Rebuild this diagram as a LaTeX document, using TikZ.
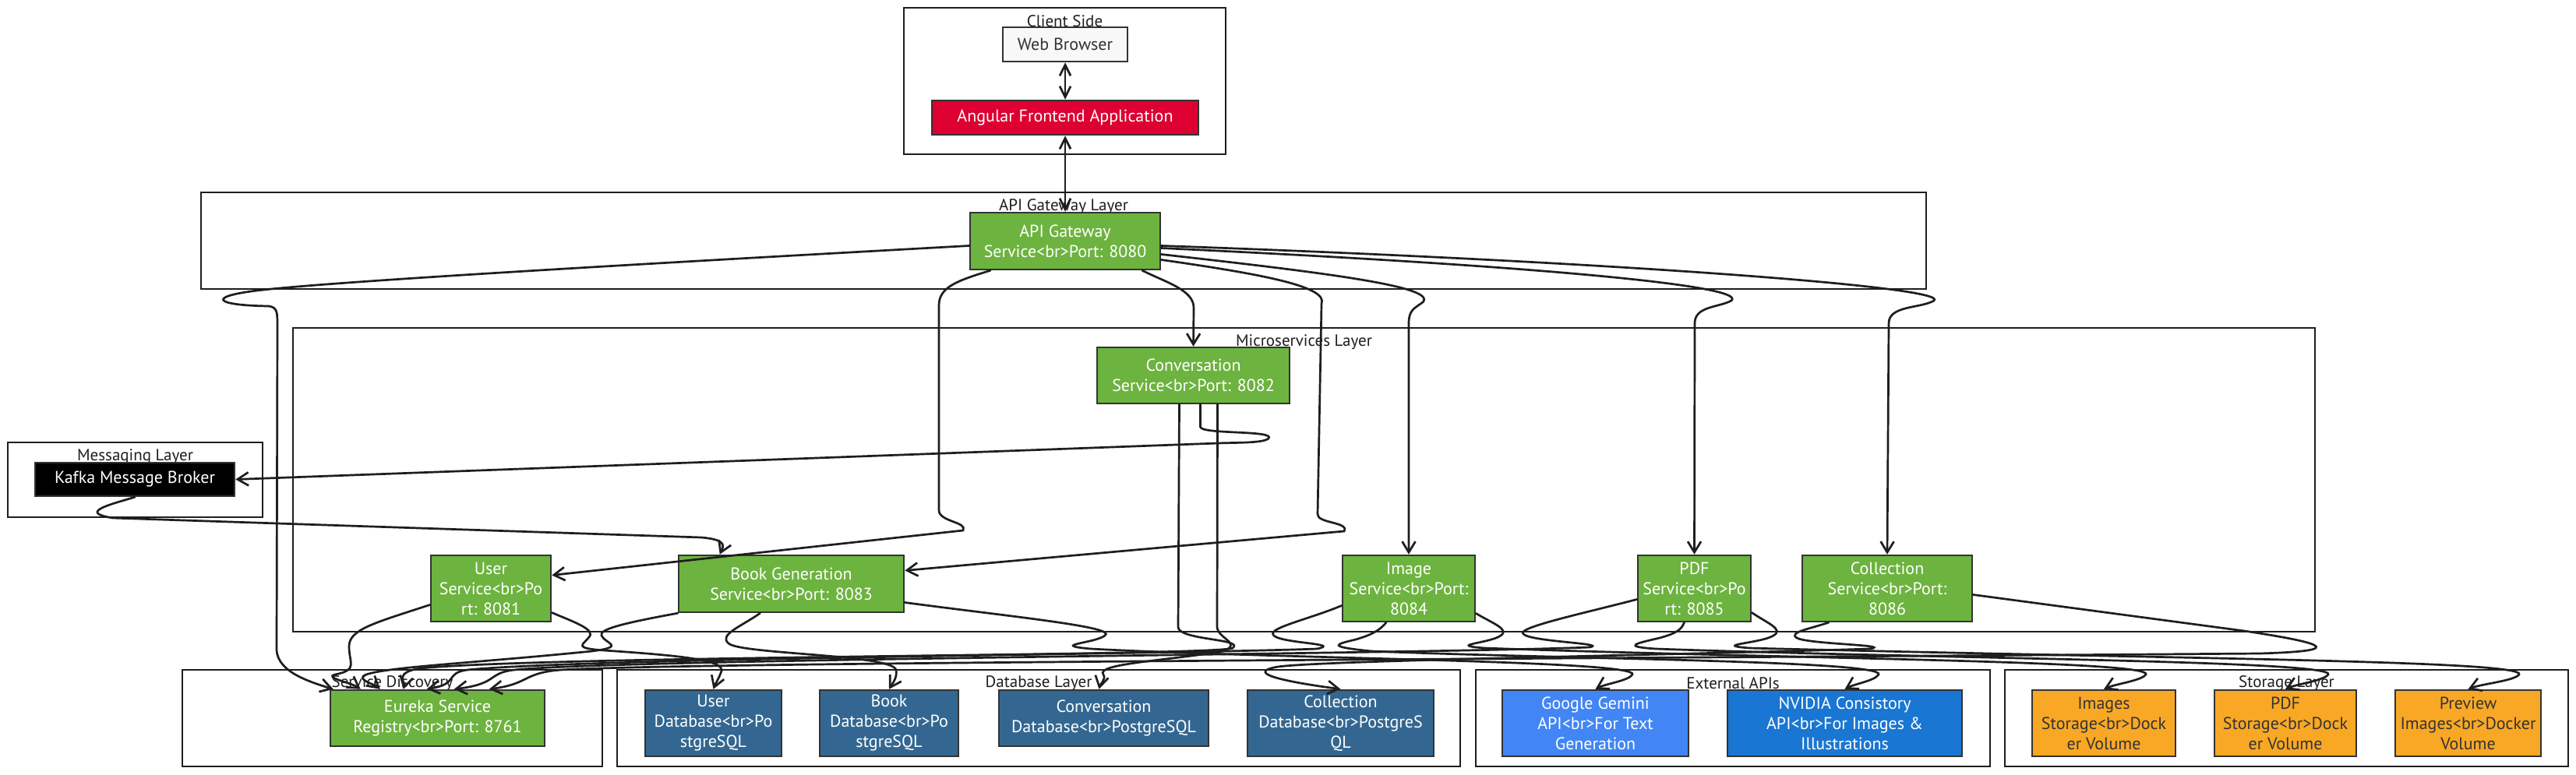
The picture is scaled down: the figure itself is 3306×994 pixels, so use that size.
\documentclass[tikz,border=0pt]{standalone}
\usepackage{fontspec}
\setmainfont{PT Sans}
\usetikzlibrary{arrows.meta,calc}
\definecolor{sgreen}{HTML}{6DB33F}
\definecolor{sred}{HTML}{DD0031}
\definecolor{sdb}{HTML}{336791}
\definecolor{sgem}{HTML}{4285F4}
\definecolor{snv}{HTML}{1976D2}
\definecolor{sorange}{HTML}{F9A825}
\definecolor{sborder}{HTML}{333333}
\definecolor{sline}{HTML}{1E1E1E}
\definecolor{sbrowser}{HTML}{F8F8F8}
\tikzset{
  layer/.style={draw=sline, line width=2.2pt, fill=white, inner sep=0pt},
  layertitle/.style={font=\fontsize{21}{24}\selectfont, text=sline, inner sep=0pt},
  box/.style={draw=sborder, line width=2.5pt, inner sep=0pt, align=center,
    font=\fontsize{22}{26}\selectfont, text=white},
  greenbox/.style={box, fill=sgreen},
  dbbox/.style={box, fill=sdb},
  storbox/.style={box, fill=sorange, text=sborder},
  edge/.style={draw=sline, line width=2.7pt, line cap=round,
    -{Straight Barb[length=14pt,width=17pt]}},
  biedge/.style={draw=sline, line width=2.7pt,
    {Straight Barb[length=14pt,width=14pt]}-{Straight Barb[length=14pt,width=14pt]}},
}
\begin{document}
\begin{tikzpicture}[x=1pt,y=-1pt]
\useasboundingbox (0,0) rectangle (3306,994);
\fill[white] (0,0) rectangle (3306,994);

% containers
\node[layer, minimum width=413, minimum height=188] (client) at (1366.5,104) {};
\node[layer, minimum width=2214, minimum height=124] (gwl) at (1365,309) {};
\node[layer, minimum width=2595, minimum height=390] (msl) at (1673.5,616) {};
\node[layer, minimum width=327, minimum height=96] (msgl) at (173.5,616) {};
\node[layer, minimum width=539, minimum height=124] (sdl) at (503.5,922) {};
\node[layer, minimum width=1082, minimum height=124] (dbl) at (1333,922) {};
\node[layer, minimum width=660, minimum height=124] (extl) at (2224,922) {};
\node[layer, minimum width=723, minimum height=124] (storl) at (2934.5,922) {};

% container titles
\node[layertitle] (clientt) at (1366.5,27) {Client Side};
\node[layertitle] (gwlt) at (1365,265) {API Gateway Layer};
\node[layertitle] (mslt) at (1673.5,439) {Microservices Layer};
\node[layertitle] (msglt) at (173.5,586) {Messaging Layer};
\node[layertitle] (sdlt) at (503.5,877) {Service Discovery};
\node[layertitle] (dblt) at (1333,877) {Database Layer};
\node[layertitle] (extlt) at (2224,877) {External APIs};
\node[layertitle] (storlt) at (2934.5,877) {Storage Layer};

% nodes
\node[box, fill=sbrowser, text=sborder, minimum width=160, minimum height=44] (browser) at (1367,57) {Web Browser};
\node[box, fill=sred, minimum width=342, minimum height=44] (angular) at (1367,151) {Angular Frontend Application};
\node[greenbox, minimum width=244, minimum height=73] (gw) at (1367,309.5) {API Gateway\\Service<br>Port: 8080};
\node[greenbox, minimum width=247, minimum height=72] (conv) at (1531.5,482) {Conversation\\Service<br>Port: 8082};
\node[greenbox, minimum width=154, minimum height=85] (user) at (630,755.5) {User\\Service<br>Po\\rt: 8081};
\node[greenbox, minimum width=289, minimum height=73] (bookgen) at (1015.5,749.5) {Book Generation\\Service<br>Port: 8083};
\node[greenbox, minimum width=170, minimum height=85] (image) at (1808,755.5) {Image\\Service<br>Port:\\8084};
\node[greenbox, minimum width=145, minimum height=85] (pdf) at (2174.5,755.5) {PDF\\Service<br>Po\\rt: 8085};
\node[greenbox, minimum width=218, minimum height=85] (coll) at (2422,755.5) {Collection\\Service<br>Port:\\8086};
\node[box, fill=black, minimum width=256, minimum height=43] (kafka) at (173,615.5) {Kafka Message Broker};
\node[greenbox, minimum width=275, minimum height=72] (eureka) at (561.5,922) {Eureka Service\\Registry<br>Port: 8761};
\node[dbbox, minimum width=175, minimum height=85] (userdb) at (915.5,928.5) {User\\Database<br>Po\\stgreSQL};
\node[dbbox, minimum width=178, minimum height=85] (bookdb) at (1141,928.5) {Book\\Database<br>Po\\stgreSQL};
\node[dbbox, minimum width=269, minimum height=72] (convdb) at (1416.5,922) {Conversation\\Database<br>PostgreSQL};
\node[dbbox, minimum width=239, minimum height=85] (colldb) at (1720.5,928.5) {Collection\\Database<br>PostgreS\\QL};
\node[box, fill=sgem, minimum width=239, minimum height=85] (gemini) at (2047.5,928.5) {Google Gemini\\API<br>For Text\\Generation};
\node[box, fill=snv, minimum width=301, minimum height=85] (nvidia) at (2367.5,928.5) {NVIDIA Consistory\\API<br>For Images \&\\Illustrations};
\node[storbox, minimum width=184, minimum height=85] (imgstor) at (2700,928.5) {Images\\Storage<br>Dock\\er Volume};
\node[storbox, minimum width=182, minimum height=85] (pdfstor) at (2933,928.5) {PDF\\Storage<br>Dock\\er Volume};
\node[storbox, minimum width=187, minimum height=85] (preview) at (3167.5,928.5) {Preview\\Images<br>Docker\\Volume};

% client connectors
\draw[biedge] (browser.south) -- (angular.north);
\draw[biedge] (angular.south) -- (gw.north);

% gateway fan-out
\draw[edge] ($(gw.south)+(99,0)$) .. controls (1495,362) and (1532,372) .. (1532,395) -- (conv.north);
\draw[edge] ($(gw.south)+(-96,0)$) .. controls (1230,360) and (1205,368) .. (1205,392) -- (1205,655)
  .. controls (1205,670) and (1242,670) .. (1236,681) -- ($(user.east)+(0,-17)$);
\draw[edge] ($(gw.east)+(0,24)$) .. controls (1620,352) and (1705,368) .. (1696,390) -- (1691,660)
  .. controls (1690,672) and (1732,670) .. (1725,682) -- ($(bookgen.east)+(0,-17)$);
\draw[edge] ($(gw.east)+(0,17)$) .. controls (1700,350) and (1845,368) .. (1826,388)
  .. controls (1815,396) and (1808,398) .. (1808,415) -- (image.north);
\draw[edge] ($(gw.east)+(0,9)$) .. controls (1950,340) and (2245,366) .. (2222,386)
  .. controls (2205,395) and (2175,393) .. (2175,415) -- (pdf.north);
\draw[edge] ($(gw.east)+(0,6)$) .. controls (2050,335) and (2505,368) .. (2482,386)
  .. controls (2465,396) and (2424,392) .. (2424,415) -- (coll.north);
\draw[edge] ($(gw.west)+(0,6)$) .. controls (800,340) and (420,362) .. (330,373)
  .. controls (265,381) and (275,392) .. (345,393) .. controls (356,395) and (356,400) .. (356,420)
  -- (355,830) .. controls (353,858) and (385,872) .. ($(eureka.north west)+(5,0)$);

% messaging
\draw[edge] ($(conv.south)+(9,0)$) -- (1540.5,548) .. controls (1541,558) and (1638,552) .. (1628,563)
  .. controls (1620,569) and (1590,568) .. (1563,569) -- (kafka.east);
\draw[edge] (kafka.south) .. controls (140,648) and (100,658) .. (145,665) -- (900,690)
  .. controls (935,693) and (928,702) .. ($(bookgen.north west)+(54,0)$);

% to Eureka
\draw[edge] ($(user.west)+(0,21)$) .. controls (480,800) and (448,808) .. (448,830)
  .. controls (448,852) and (460,860) .. (430,866) .. controls (415,870) and (450,876) .. ($(eureka.north west)+(40,0)$);
\draw[edge] (bookgen.south west) .. controls (800,800) and (768,808) .. (772,816)
  .. controls (776,826) and (805,830) .. (760,836) .. controls (600,852) and (500,856) .. (470,866)
  .. controls (455,872) and (480,878) .. ($(eureka.north west)+(65,0)$);
\draw[edge] ($(conv.south)+(-18,0)$) -- (1512,805) .. controls (1512,822) and (1598,820) .. (1582,832)
  .. controls (1565,842) and (700,842) .. (540,858) .. controls (505,863) and (520,876) .. ($(eureka.north west)+(95,0)$);
\draw[edge] ($(image.west)+(0,22)$) .. controls (1680,795) and (1628,806) .. (1634,815)
  .. controls (1640,826) and (1725,826) .. (1690,833) .. controls (1500,840) and (750,845) .. (600,860)
  .. controls (570,864) and (590,878) .. ($(eureka.north west)+(125,0)$);
\draw[edge] ($(pdf.west)+(0,14)$) .. controls (2030,788) and (1945,806) .. (1955,814)
  .. controls (1965,824) and (2065,826) .. (2040,831) .. controls (1800,840) and (800,846) .. (660,860)
  .. controls (625,864) and (640,878) .. ($(eureka.north west)+(160,0)$);
\draw[edge] ($(coll.east)+(0,8)$) -- (2880,810) .. controls (3000,828) and (3000,836) .. (2900,839)
  .. controls (2000,846) and (900,850) .. (720,860) .. controls (670,864) and (680,878) .. ($(eureka.north west)+(205,0)$);

% to databases
\draw[edge] ($(user.east)+(0,31)$) .. controls (735,798) and (765,808) .. (756,818)
  .. controls (748,828) and (735,832) .. (775,835) .. controls (880,842) and (935,848) .. (925,864)
  .. controls (922,872) and (918,878) .. (userdb.north);
\draw[edge] ($(bookgen.south)+(-40,0)$) .. controls (950,805) and (922,815) .. (935,826)
  .. controls (950,840) and (1145,840) .. (1150,860) .. controls (1152,870) and (1145,878) .. (bookdb.north);
\draw[edge] ($(conv.south)+(31,0)$) -- (1562,805) .. controls (1563,820) and (1595,826) .. (1570,836)
  .. controls (1500,848) and (1405,852) .. (1416,866) .. controls (1420,872) and (1412,878) .. ($(convdb.north)+(-6,0)$);
\draw[edge] ($(coll.south west)+(35,0)$) .. controls (2320,808) and (2295,812) .. (2306,819)
  .. controls (2320,827) and (2430,828) .. (2400,833) .. controls (2100,842) and (1700,848) .. (1640,856)
  .. controls (1605,862) and (1625,872) .. (colldb.north);

% to external APIs
\draw[edge] ($(bookgen.east)+(0,24)$) .. controls (1300,792) and (1435,805) .. (1418,816)
  .. controls (1405,826) and (1345,828) .. (1400,833) .. controls (1650,846) and (2105,848) .. (2095,866)
  .. controls (2090,874) and (2060,878) .. (gemini.north);
\draw[edge] ($(image.south)+(-29,0)$) .. controls (1770,810) and (1760,815) .. (1740,821)
  .. controls (1715,827) and (1700,830) .. (1760,836) .. controls (2000,846) and (2420,848) .. (2411,866)
  .. controls (2406,874) and (2380,878) .. (nvidia.north);

% to storage
\draw[edge] ($(image.east)+(0,32)$) .. controls (1915,800) and (1938,808) .. (1926,816)
  .. controls (1912,826) and (1855,828) .. (1905,832) .. controls (2300,846) and (2765,848) .. (2754,866)
  .. controls (2748,874) and (2715,878) .. (imgstor.north);
\draw[edge] ($(pdf.south)+(-13,0)$) .. controls (2158,808) and (2152,813) .. (2130,819)
  .. controls (2100,826) and (2080,830) .. (2125,833) .. controls (2500,846) and (2998,848) .. (2988,866)
  .. controls (2982,874) and (2948,878) .. (pdfstor.north);
\draw[edge] ($(pdf.east)+(0,31)$) .. controls (2268,800) and (2290,808) .. (2276,816)
  .. controls (2260,826) and (2195,828) .. (2245,832) .. controls (2800,846) and (3243,848) .. (3233,866)
  .. controls (3227,874) and (3185,878) .. (preview.north);
\end{tikzpicture}
\end{document}
